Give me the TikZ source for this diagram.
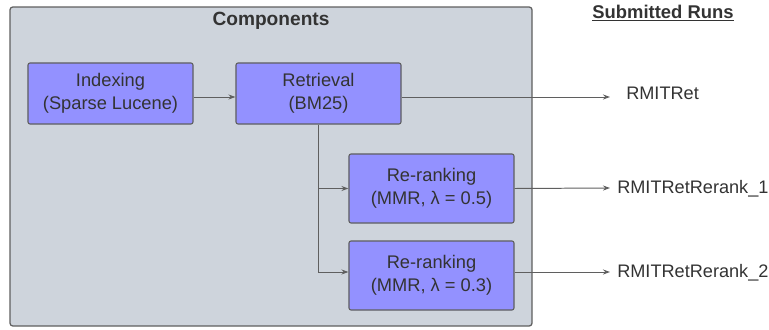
\documentclass[tikz,border=0pt]{standalone}
\usepackage{fontspec}
\setmainfont{Liberation Sans}
\usetikzlibrary{arrows.meta}
\definecolor{panelgray}{RGB}{206,212,220}
\definecolor{boxblue}{RGB}{147,145,255}
\definecolor{linegray}{RGB}{95,95,95}
\definecolor{txtgray}{RGB}{51,51,51}

\begin{document}
\begin{tikzpicture}[x=0.025cm,y=-0.025cm,>={Stealth[length=5pt,width=3.6pt]},
  font=\fontsize{13}{16}\selectfont,text=txtgray,
  stage/.style={draw=linegray,fill=boxblue,rounded corners=1.5pt,line width=0.8pt,
    minimum width=4.125cm,align=center,inner sep=2pt},
  flow/.style={->,draw=linegray,line width=0.7pt},
  run/.style={anchor=west,inner sep=0pt,font=\fontsize{12.9}{15}\selectfont}]
\useasboundingbox (0,0) rectangle (769,329);
\draw[linegray,fill=panelgray,line width=0.9pt,rounded corners=2pt] (10,7) rectangle (532,326);
\node[font=\fontsize{13.6}{16}\selectfont\bfseries] (comp) at (271,21) {Components};
\node[font=\fontsize{13.1}{16}\selectfont\bfseries] (subm) at (663,13) {\underline{Submitted Runs}};
\node[stage,minimum height=1.525cm] (idx) at (110.5,93.5) {Indexing\\(Sparse Lucene)};
\node[stage,minimum height=1.525cm] (ret) at (318.5,93.5) {Retrieval\\(BM25)};
\node[stage,minimum height=1.725cm] (rr1) at (431.5,188.5) {Re-ranking\\(MMR, λ = 0.5)};
\node[stage,minimum height=1.725cm] (rr2) at (431.5,275.5) {Re-ranking\\(MMR, λ = 0.3)};
\coordinate (endA) at (610,97);
\coordinate (endB) at (610,188);
\coordinate (endC) at (610,272);
\node[run] (runA) at (626,93) {RMITRet};
\node[run] (runB) at (617,189) {RMITRetRerank\_1};
\node[run] (runC) at (617,273) {RMITRetRerank\_2};
\draw[flow] (idx.east |- 0,97) -- (ret.west |- 0,97);
\draw[flow] (ret.east |- endA) -- (endA);
\draw[flow] (ret.south) |- (rr1.west);
\draw[flow] (ret.south) |- (rr2.west |- endC);
\draw[flow] (rr1.east) -- (endB);
\draw[flow] (rr2.east |- endC) -- (endC);
\end{tikzpicture}
\end{document}
